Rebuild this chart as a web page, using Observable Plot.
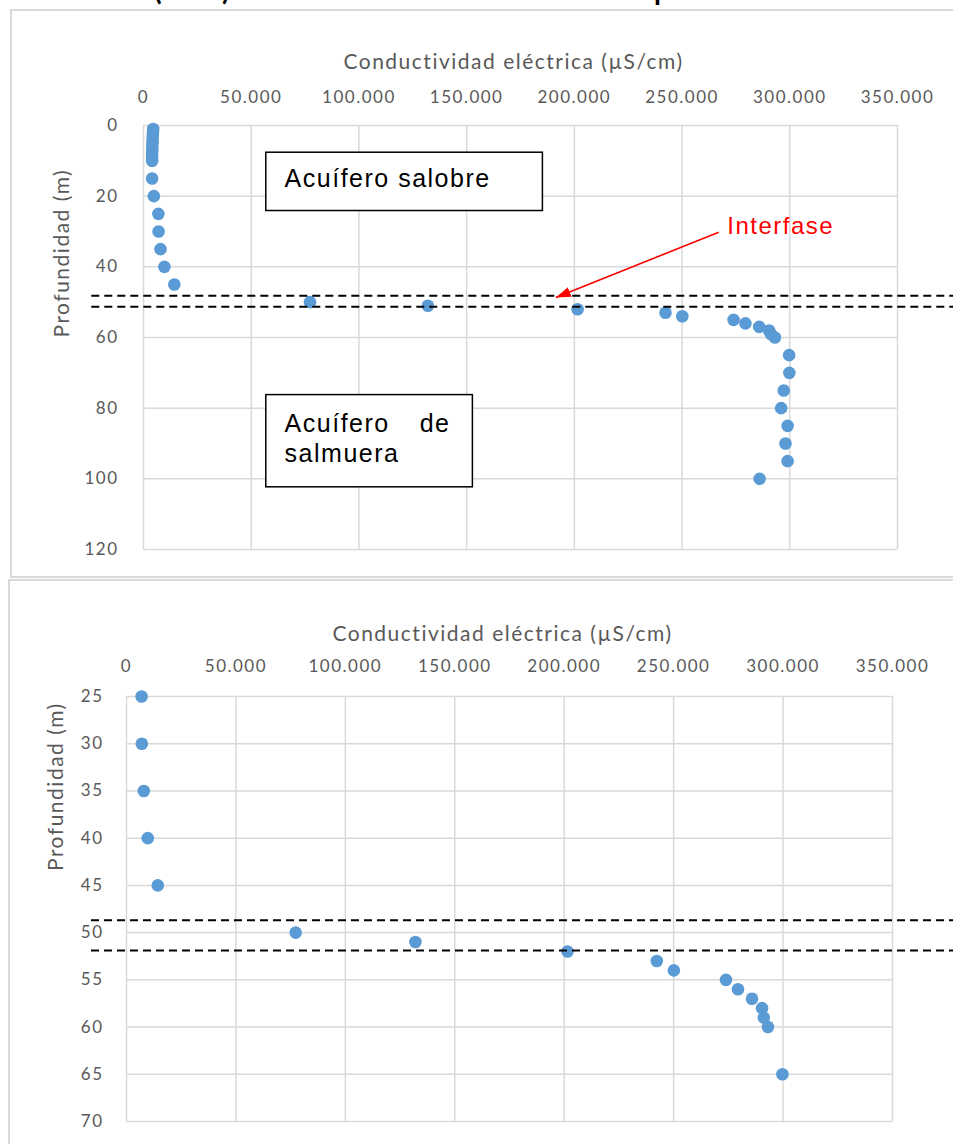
<!DOCTYPE html>
<html>
<head>
<meta charset="utf-8">
<script src="https://cdn.jsdelivr.net/npm/d3@7"></script>
<script src="https://cdn.jsdelivr.net/npm/@observablehq/plot@0.6"></script>
<style>
  html, body { margin: 0; padding: 0; background: #fff; overflow: hidden; }
  #page { position: relative; width: 953px; height: 1144px; overflow: hidden; background: #fff; }
  .frame { position: absolute; border: 2px solid #d9d9d9; box-sizing: border-box; }
  .chart { position: absolute; left: 0; width: 953px; }
  .chart svg { overflow: hidden; }
  .chart svg text { letter-spacing: 1.5px; }
  .chart svg g[aria-label="axis title"] text { letter-spacing: 2px; }
  .chart svg g[aria-label="note"] text { letter-spacing: 0; }
  #title {
    position: absolute; left: 154px; top: -25px;
    font: bold 28px/28px Lato, sans-serif; color: #000; white-space: nowrap;
  }
</style>
</head>
<body>
<div id="page">
  <div id="title">(Pozo) Interfase salobre-salmuera con la profundidad</div>
  <div class="frame" style="left:10px; top:9px; width:960px; height:569px;"></div>
  <div class="frame" style="left:8px; top:579px; width:960px; height:600px;"></div>
  <div class="chart" id="chart-full" style="top:0px;"></div>
  <div class="chart" id="chart-zoom" style="top:579px;"></div>
</div>
<script>
// Perfil del sondeo: conductividad eléctrica (µS/cm) frente a profundidad (m)
const depth = [1, 2, 3, 4, 5, 6, 7, 8, 9, 10, 15, 20, 25, 30, 35, 40, 45,
  50, 51, 52, 53, 54, 55, 56, 57, 58, 59, 60, 65, 70, 75, 80, 85, 90, 95, 100];
const conductivity = [4500, 4400, 4300, 4200, 4200, 4100, 4100, 4000, 4000, 4000, 4000, 4800,
  6900, 7000, 7900, 9700, 14300, 77300, 132000, 201500, 242300, 250100, 273900, 279400,
  285800, 290400, 291200, 293100, 299700, 299800, 297200, 296000, 299000, 298000, 299000, 286000];

const xTicks = [0, 50000, 100000, 150000, 200000, 250000, 300000, 350000];
const yTicksFull = [0, 20, 40, 60, 80, 100, 120];
const yTicksZoom = [25, 30, 35, 40, 45, 50, 55, 60, 65, 70];

const xTitle = "Conductividad eléctrica (µS/cm)";
const yTitle = "Profundidad (m)";

// Límites de la interfase (m) y extensión horizontal de las líneas discontinuas (µS/cm)
const interfaceFull = [48.2, 51.3];
const interfaceZoom = [48.7, 51.9];
const dashSpanFull = [-24000, 380000];
const dashSpanZoom = [-16000, 380000];

// Cuadros de texto de los acuíferos (µS/cm, m)
const boxX1 = [57000, 57000];
const boxX2 = [185400, 152900];
const boxY1 = [7.7, 76.3];
const boxY2 = [24.2, 102.4];
const leftNotes = ["Acuífero salobre", "Acuífero", "salmuera"];
const leftNoteX = [65500, 65500, 65500];
const leftNoteY = [15.2, 84.5, 93.0];
const rightNotes = ["de"];
const rightNoteX = [142500];
const rightNoteY = [84.5];

// Flecha roja de la interfase
const arrowLabel = ["Interfase"];
const arrowLabelX = [271000];
const arrowLabelY = [28.6];
const arrowFrom = [267000, 30.2];
const arrowTo = [191400, 48.7];

const rows = depth.map((d, i) => ({depth: d, ec: conductivity[i]}));
const fmt = d3.formatLocale({decimal: ",", thousands: ".", grouping: [3], currency: ["", ""]}).format(",");

const gray = "#595959";
const grid = {stroke: "#d9d9d9", strokeOpacity: 1, strokeWidth: 1.5};
const dotStyle = {x: "ec", y: "depth", r: 6.3, fill: "#5b9bd5"};

function filledArrow(color, context) {
  const doc = context && context.document ? context.document : document;
  const marker = doc.createElementNS("http://www.w3.org/2000/svg", "marker");
  marker.setAttribute("viewBox", "-15 -5 15 10");
  marker.setAttribute("markerWidth", 15);
  marker.setAttribute("markerHeight", 10);
  marker.setAttribute("markerUnits", "userSpaceOnUse");
  marker.setAttribute("orient", "auto");
  marker.setAttribute("fill", color);
  marker.setAttribute("stroke", "none");
  const path = doc.createElementNS("http://www.w3.org/2000/svg", "path");
  path.setAttribute("d", "M-15,-5L0,0L-15,5Z");
  marker.appendChild(path);
  return marker;
}

function dashed(levels, span) {
  return Plot.ruleY(levels, {x1: span[0], x2: span[1], stroke: "#000", strokeWidth: 2, strokeDasharray: "8,5"});
}

// Gráfico completo: 0–120 m
const full = Plot.plot({
  width: 953, height: 577,
  marginLeft: 143, marginRight: 56, marginTop: 125, marginBottom: 28,
  style: {fontFamily: "Lato, sans-serif", fontSize: "17px", color: gray, background: "transparent"},
  x: {domain: [0, 350000], axis: null},
  y: {domain: [0, 120], reverse: true, axis: null},
  marks: [
    Plot.gridX(xTicks, grid),
    Plot.gridY(yTicksFull, grid),
    Plot.axisX(xTicks, {anchor: "top", tickSize: 0, tickPadding: 23, tickFormat: fmt, fill: gray, fontSize: 17, label: null}),
    Plot.axisY(yTicksFull, {anchor: "left", tickSize: 0, tickPadding: 25, fill: gray, fontSize: 17, label: null}),
    Plot.text([xTitle], {frameAnchor: "top", dy: -71, dx: -7, fontSize: 21, fill: gray, ariaLabel: "axis title"}),
    Plot.text([yTitle], {frameAnchor: "left", rotate: -90, dx: -81, fontSize: 21, fill: gray, ariaLabel: "axis title"}),
    Plot.rect(boxX1, {x1: (d, i) => boxX1[i], x2: (d, i) => boxX2[i], y1: (d, i) => boxY1[i], y2: (d, i) => boxY2[i],
      fill: "#fff", stroke: "#000", strokeWidth: 1.5}),
    Plot.text(leftNotes, {x: (d, i) => leftNoteX[i], y: (d, i) => leftNoteY[i], textAnchor: "start",
      fontFamily: "Liberation Sans, Arial, sans-serif", fontSize: 25, fill: "#000", ariaLabel: "note"}),
    Plot.text(rightNotes, {x: (d, i) => rightNoteX[i], y: (d, i) => rightNoteY[i], textAnchor: "end",
      fontFamily: "Liberation Sans, Arial, sans-serif", fontSize: 25, fill: "#000", ariaLabel: "note"}),
    Plot.dot(rows, dotStyle),
    dashed(interfaceFull, dashSpanFull),
    Plot.link([0], {x1: arrowFrom[0], y1: arrowFrom[1], x2: arrowTo[0], y2: arrowTo[1],
      stroke: "#ff0000", strokeWidth: 1.6, markerEnd: filledArrow}),
    Plot.text(arrowLabel, {x: (d, i) => arrowLabelX[i], y: (d, i) => arrowLabelY[i], textAnchor: "start",
      fontFamily: "Liberation Sans, Arial, sans-serif", fontSize: 24, fill: "#ff0000", ariaLabel: "note"})
  ]
});
document.getElementById("chart-full").appendChild(full);

// Detalle de la interfase: 25–70 m
const zoom = Plot.plot({
  width: 953, height: 565,
  marginLeft: 126, marginRight: 61, marginTop: 117, marginBottom: 23,
  style: {fontFamily: "Lato, sans-serif", fontSize: "17px", color: gray, background: "transparent"},
  x: {domain: [0, 350000], axis: null},
  y: {domain: [25, 70], reverse: true, axis: null},
  marks: [
    Plot.gridX(xTicks, grid),
    Plot.gridY(yTicksZoom, grid),
    Plot.axisX(xTicks, {anchor: "top", tickSize: 0, tickPadding: 25, tickFormat: fmt, fill: gray, fontSize: 17, label: null}),
    Plot.axisY(yTicksZoom, {anchor: "left", tickSize: 0, tickPadding: 23, fill: gray, fontSize: 17, label: null}),
    Plot.text([xTitle], {frameAnchor: "top", dy: -70, dx: -7, fontSize: 21, fill: gray, ariaLabel: "axis title"}),
    Plot.text([yTitle], {frameAnchor: "left", rotate: -90, dx: -70, dy: -38, fontSize: 21, fill: gray, ariaLabel: "axis title"}),
    Plot.dot(rows.filter(r => r.depth >= 25 && r.depth <= 65), dotStyle),
    dashed(interfaceZoom, dashSpanZoom)
  ]
});
document.getElementById("chart-zoom").appendChild(zoom);
</script>
</body>
</html>
